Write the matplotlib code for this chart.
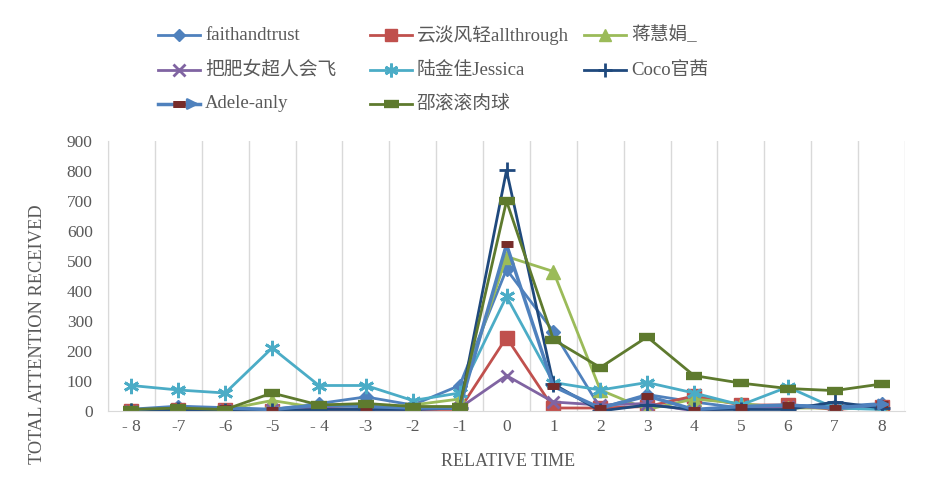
import matplotlib
matplotlib.use('Agg')
import matplotlib.pyplot as plt
from matplotlib.lines import Line2D

plt.rcParams['font.family'] = ['Liberation Serif', 'Noto Sans CJK SC', 'DejaVu Sans']

# Tiempo relativo y atención recibida por usuario
relative_time = list(range(-8, 9))
tick_labels = ['- 8', '-7', '-6', '-5', '- 4', '-3', '-2', '-1', '0', '1', '2', '3', '4', '5', '6', '7', '8']

faithandtrust = [0, 15, 5, 5, 25, 47, 20, 85, 472, 265, 10, 55, 30, 10, 20, 15, 25]
allthrough = [0, 5, 5, 0, 5, 5, 5, 5, 245, 10, 10, 15, 50, 20, 20, 5, 15]
jianghuijuan = [5, 5, 5, 35, 10, 5, 20, 40, 515, 465, 70, 5, 40, 25, 10, 10, 10]
bafeinv = [0, 5, 5, 5, 10, 5, 5, 10, 118, 30, 20, 25, 0, 10, 15, 10, 10]
jessica = [85, 70, 60, 210, 85, 85, 35, 60, 382, 95, 70, 95, 60, 20, 80, 10, 5]
coco = [0, 5, 0, 0, 5, 5, 5, 10, 802, 90, 0, 20, 5, 5, 5, 30, 10]
adele = [5, 15, 10, 5, 20, 15, 10, 10, 555, 82, 10, 50, 5, 15, 20, 10, 22]
shaogungun = [5, 10, 5, 60, 20, 25, 15, 15, 700, 238, 145, 247, 118, 93, 75, 68, 90]

GRIS = '#595959'
W, H = 926, 494

fig = plt.figure(figsize=(9.26, 4.94), dpi=100)
ax = fig.add_axes([108 / W, 83 / H, 797 / W, 270 / H])

# (clave, datos, etiqueta, estilo)
series = [
    ('faith', faithandtrust, 'faithandtrust', dict(color='#4F81BD', lw=2, marker='D', ms=7)),
    ('allthrough', allthrough, '云淡风轻allthrough', dict(color='#C0504D', lw=2, marker='s', ms=10)),
    ('jiang', jianghuijuan, '蒋慧娟_', dict(color='#9BBB59', lw=2, marker='^', ms=10)),
    ('bafei', bafeinv, '把肥女超人会飞', dict(color='#8064A2', lw=2, marker='x', ms=9, mew=2)),
    ('jessica', jessica, '陆金佳Jessica', dict(color='#4BACC6', lw=2, marker=(6, 2, 0), ms=11, mew=2)),
    ('coco', coco, 'Coco官茜', dict(color='#1F497D', lw=2, marker='+', ms=11, mew=2)),
    ('adele', adele, 'Adele-anly', dict(color='#4F81BD', lw=2.5, marker='_', ms=9, mew=5, mec='#772C2A')),
    ('shao', shaogungun, '邵滚滚肉球', dict(color='#5E7A2E', lw=2, marker='_', ms=12, mew=6, mec='#5E7A2E')),
]
estilos = {}
etiquetas = {}
for clave, datos, etiqueta, estilo in series:
    ax.plot(relative_time, datos, **estilo)
    estilos[clave] = estilo
    etiquetas[clave] = etiqueta

# Flecha al final de la serie Adele-anly
ax.annotate('', xy=(8.25, adele[-1]), xytext=(7.85, adele[-1]),
            arrowprops=dict(arrowstyle='-|>', color='#4F81BD', lw=2, mutation_scale=16))

ax.set_xlim(-8.5, 8.5)
ax.set_ylim(0, 900)
ax.set_xticks(relative_time)
ax.set_xticklabels(tick_labels)
ax.set_yticks(range(0, 1000, 100))
ax.tick_params(axis='both', length=0, labelsize=12.5, colors=GRIS)
ax.tick_params(axis='y', pad=11)
ax.tick_params(axis='x', pad=6)

# Rejilla vertical entre categorías
ax.set_xticks([x + 0.5 for x in range(-9, 9)], minor=True)
ax.grid(axis='x', which='minor', color='#D9D9D9', lw=1)
ax.tick_params(axis='x', which='minor', length=0)

for s in ['top', 'right']:
    ax.spines[s].set_visible(False)
ax.spines['left'].set_color('#D9D9D9')
ax.spines['bottom'].set_color('#D9D9D9')

fig.text(508 / W, 1 - 461 / H, 'RELATIVE TIME', fontsize=13, color=GRIS, ha='center', va='center')
fig.text(38 / W, 1 - 334 / H, 'TOTAL ATTENTION RECEIVED', rotation=90, fontsize=13.2,
         color=GRIS, ha='center', va='center')

# Leyenda manual: tres columnas, filas alineadas
filas_y = [35, 70, 104]
columnas_x = [158, 370, 584]
disposicion = [['faith', 'allthrough', 'jiang'],
               ['bafei', 'jessica', 'coco'],
               ['adele', 'shao']]
for fila, claves in enumerate(disposicion):
    for col, clave in enumerate(claves):
        x0 = columnas_x[col]
        y = 1 - filas_y[fila] / H
        est = dict(estilos[clave])
        est['ms'] = est['ms'] * 0.9
        fig.add_artist(Line2D([x0 / W, (x0 + 42) / W], [y, y], transform=fig.transFigure,
                              markevery=[], **{k: v for k, v in est.items() if k not in ('marker', 'ms', 'mew', 'mec')}))
        fig.add_artist(Line2D([(x0 + 21) / W], [y], transform=fig.transFigure, linestyle='none',
                              **{k: v for k, v in est.items() if k != 'lw'}))
        if clave == 'adele':
            fig.add_artist(plt.Line2D([(x0 + 21) / W], [y], transform=fig.transFigure, linestyle='none',
                                      marker='_', ms=8, mew=5, color='#772C2A'))
            fig.patches.append(matplotlib.patches.FancyArrowPatch(
                ((x0 + 28) / W, y), ((x0 + 44) / W, y), transform=fig.transFigure,
                arrowstyle='-|>', mutation_scale=16, color='#4F81BD', lw=2))
        fig.text((x0 + 47) / W, y, etiquetas[clave], fontsize=13.5, color=GRIS, ha='left', va='center')

fig.savefig('out.png', dpi=100)
plt.close(fig)
